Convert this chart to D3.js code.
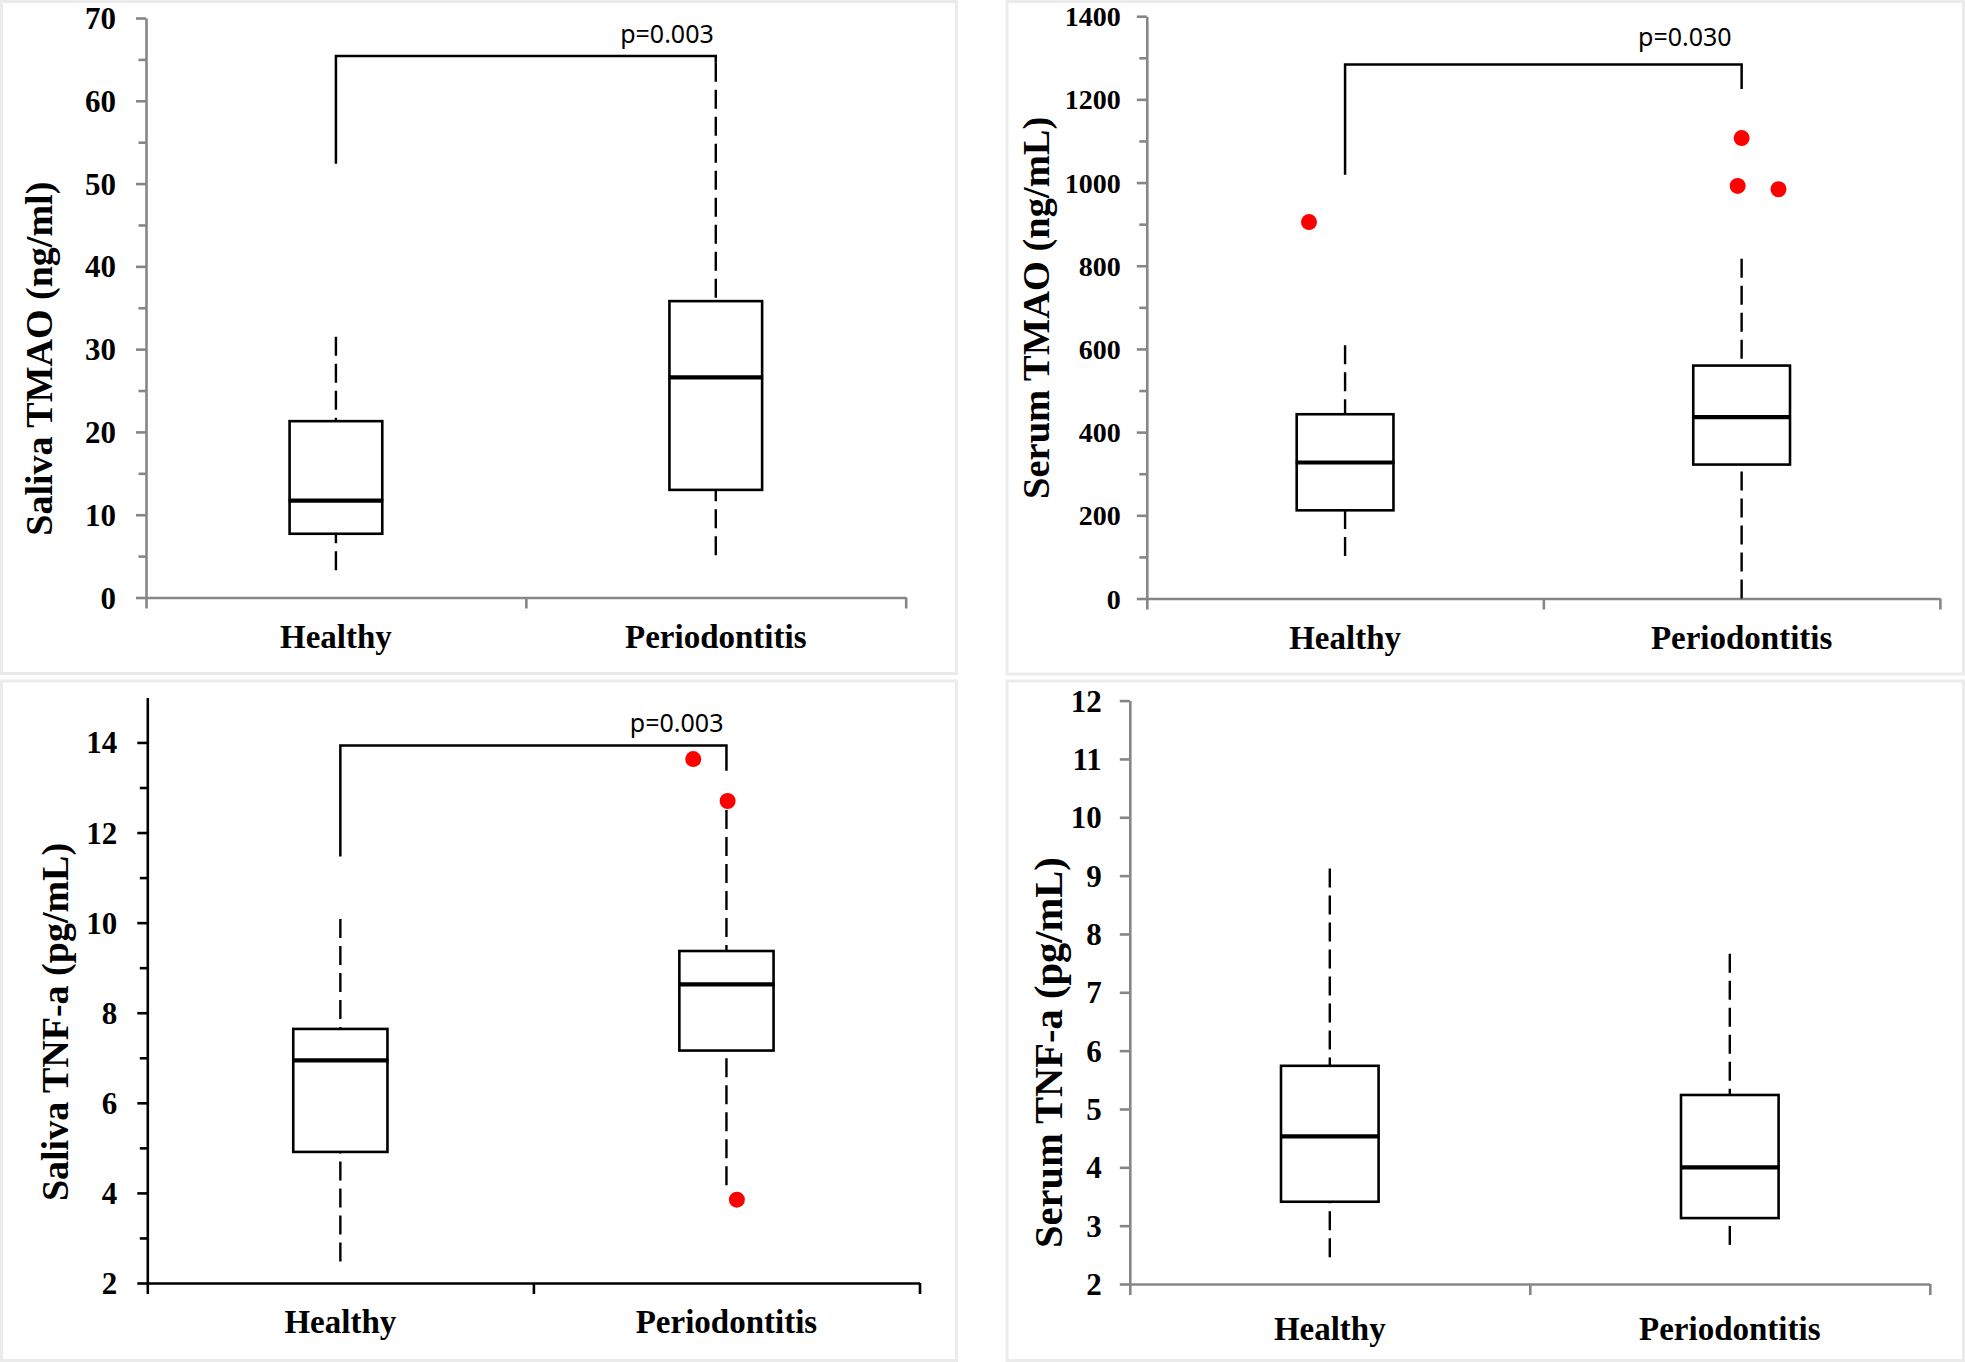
<!DOCTYPE html>
<html>
<head>
<meta charset="utf-8">
<script src="https://cdn.jsdelivr.net/npm/d3@7"></script>
<style>
  html, body { margin: 0; padding: 0; background: #fff; }
  svg { display: block; }
</style>
</head>
<body>
<svg id="chart" width="1965" height="1362"></svg>
<script>
// groups on the x axis
const groups = ['Healthy', 'Periodontitis'];

// five-number summaries per group: [min, q1, median, q3, max]
const salivaTmao = [[3.3, 7.7, 11.7, 21.3, 31.5], [5.1, 13.0, 26.6, 35.8, 64.6]];
const serumTmao = [[102, 212, 327, 443, 609], [0, 322, 436, 560, 817]];
const salivaTnf = [[2.48, 4.91, 6.94, 7.64, 10.08], [4.17, 7.16, 8.63, 9.37, 12.5]];
const serumTnf = [[2.46, 3.41, 4.53, 5.74, 9.12], [2.67, 3.13, 4.0, 5.24, 7.66]];

// outliers per group, and their sideways jitter (fraction of a band)
const serumTmaoOutliers = [[905], [1107, 992, 984]];
const serumTmaoJitter = [[-0.091], [0, -0.01, 0.093]];
const salivaTnfOutliers = [[], [13.63, 12.7, 3.85]];
const salivaTnfJitter = [[], [-0.086, 0.003, 0.027]];

// y tick labels
const salivaTmaoTicks = [0, 10, 20, 30, 40, 50, 60, 70];
const serumTmaoTicks = [0, 200, 400, 600, 800, 1000, 1200, 1400];
const salivaTnfTicks = [2, 4, 6, 8, 10, 12, 14];
const serumTnfTicks = [2, 3, 4, 5, 6, 7, 8, 9, 10, 11, 12];

// significance brackets: [left leg bottom, top, right leg bottom]
const salivaTmaoSig = [52.4, 65.4, 64.6];
const serumTmaoSig = [1019, 1284, 1225];
const salivaTnfSig = [11.47, 13.93, 13.37];
const pLabels = ['p=0.003', 'p=0.030', 'p=0.003'];

const svg = d3.select('#chart');
const serif = '"Liberation Serif", "Times New Roman", serif';

// light panel frames
const frames = [[1.5, 1.5, 955, 672], [1007, 1.5, 956.5, 672.5], [1.5, 681, 955, 679.5], [1007, 681, 956.5, 679.5]];
svg.selectAll('rect.frame')
    .data(frames)
    .enter().append('rect')
    .attr('class', 'frame')
    .attr('x', d => d[0]).attr('y', d => d[1])
    .attr('width', d => d[2]).attr('height', d => d[3])
    .attr('fill', 'none')
    .attr('stroke', '#ebebeb')
    .attr('stroke-width', 3);

function drawPanel(p) {
    const g = svg.append('g');
    const y = d3.scaleLinear().domain(p.domain).range([p.yBot, p.yTop]);
    const band = d3.scaleBand().domain(groups).range([p.x0, p.x1]);
    const bw = band.bandwidth();
    const cx = name => band(name) + bw / 2;
    const boxW = bw * 0.244;

    // y axis, major and minor ticks
    const yAxis = g.append('g')
        .attr('transform', `translate(${p.x0},0)`)
        .call(d3.axisLeft(y).tickValues(p.ticks).tickSize(10).tickSizeOuter(0)
            .tickPadding(p.tickPad).tickFormat(d3.format('d')));
    yAxis.attr('color', p.axisColor).attr('font-family', serif).attr('font-size', p.tickFont)
        .attr('font-weight', 'bold');
    yAxis.selectAll('path, line').attr('stroke-width', 2.6);
    yAxis.selectAll('text').attr('fill', '#000').attr('dy', '0.34em');

    if (p.minor) {
        const minorTicks = d3.pairs(p.ticks, (a, b) => (a + b) / 2);
        const m = g.append('g')
            .attr('transform', `translate(${p.x0},0)`)
            .call(d3.axisLeft(y).tickValues(minorTicks).tickSize(7.5).tickFormat(''));
        m.attr('color', p.axisColor);
        m.select('.domain').remove();
        m.selectAll('line').attr('stroke-width', 2.6);
    }

    // x axis with ticks at band edges
    const xEdge = d3.scaleLinear().domain([0, groups.length]).range([p.x0, p.x1]);
    const xAxis = g.append('g')
        .attr('transform', `translate(0,${p.yBot})`)
        .call(d3.axisBottom(xEdge).tickValues(d3.range(groups.length + 1)).tickSize(11)
            .tickSizeOuter(0).tickFormat(''));
    xAxis.attr('color', p.axisColor);
    xAxis.selectAll('path, line').attr('stroke-width', 2.6);

    g.selectAll('text.group')
        .data(groups)
        .enter().append('text')
        .attr('class', 'group')
        .attr('x', d => cx(d))
        .attr('y', p.yBot + p.labelDy)
        .attr('text-anchor', 'middle')
        .attr('font-family', serif)
        .attr('font-weight', 'bold')
        .attr('font-size', 33)
        .text(d => d);

    // y axis title
    g.append('text')
        .attr('transform', `translate(${p.titleX},${p.titleY}) rotate(-90)`)
        .attr('text-anchor', 'middle')
        .attr('font-family', serif)
        .attr('font-weight', 'bold')
        .attr('font-size', p.titleSize)
        .text(p.title);

    // boxes
    const boxes = g.selectAll('g.box')
        .data(p.stats.map((s, i) => ({ name: groups[i], s: s })))
        .enter().append('g')
        .attr('class', 'box');

    boxes.append('line')
        .attr('x1', d => cx(d.name)).attr('x2', d => cx(d.name))
        .attr('y1', d => y(d.s[4])).attr('y2', d => y(d.s[3]))
        .attr('stroke', '#000').attr('stroke-width', 2.4).attr('stroke-dasharray', '19,8');
    boxes.append('line')
        .attr('x1', d => cx(d.name)).attr('x2', d => cx(d.name))
        .attr('y1', d => y(d.s[0])).attr('y2', d => y(d.s[1]))
        .attr('stroke', '#000').attr('stroke-width', 2.4).attr('stroke-dasharray', '19,8');
    boxes.append('rect')
        .attr('x', d => cx(d.name) - boxW / 2)
        .attr('y', d => y(d.s[3]))
        .attr('width', boxW)
        .attr('height', d => y(d.s[1]) - y(d.s[3]))
        .attr('fill', '#fff')
        .attr('stroke', '#000')
        .attr('stroke-width', 2.6);
    boxes.append('line')
        .attr('x1', d => cx(d.name) - boxW / 2 - 1).attr('x2', d => cx(d.name) + boxW / 2 + 1)
        .attr('y1', d => y(d.s[2])).attr('y2', d => y(d.s[2]))
        .attr('stroke', '#000').attr('stroke-width', 4.2);

    // outliers
    if (p.outliers) {
        const pts = [];
        p.outliers.forEach((vals, i) => vals.forEach((v, j) => pts.push({ name: groups[i], v: v, j: p.jitter[i][j] })));
        g.selectAll('circle.out')
            .data(pts)
            .enter().append('circle')
            .attr('class', 'out')
            .attr('cx', d => cx(d.name) + d.j * bw)
            .attr('cy', d => y(d.v))
            .attr('r', 8)
            .attr('fill', '#ff0000');
    }

    // significance bracket
    if (p.sig) {
        const xl = cx(groups[0]), xr = cx(groups[1]);
        g.append('path')
            .attr('d', d3.line()([[xl, y(p.sig[0])], [xl, y(p.sig[1])], [xr, y(p.sig[1])], [xr, y(p.sig[2])]]))
            .attr('fill', 'none')
            .attr('stroke', '#000')
            .attr('stroke-width', 2.5);
        g.append('text')
            .attr('x', xr + p.pDx)
            .attr('y', y(p.sig[1]) + p.pDy)
            .attr('text-anchor', 'end')
            .attr('font-family', '"Noto Sans", "Open Sans", sans-serif')
            .attr('font-size', 25)
            .text(p.pLabel);
    }
}

drawPanel({
    x0: 146, x1: 905.7, yTop: 18, yBot: 597.5, domain: [0, 70],
    ticks: salivaTmaoTicks, minor: true, tickFont: 31, tickPad: 20, axisColor: '#868686',
    title: 'Saliva TMAO (ng/ml)', titleX: 52, titleY: 358.7, titleSize: 38, labelDy: 50,
    stats: salivaTmao, sig: salivaTmaoSig, pLabel: pLabels[0], pDx: -2, pDy: -13
});

drawPanel({
    x0: 1146.8, x1: 1939.9, yTop: 16.2, yBot: 598.5, domain: [0, 1400],
    ticks: serumTmaoTicks, minor: true, tickFont: 28, tickPad: 16, axisColor: '#868686',
    title: 'Serum TMAO (ng/mL)', titleX: 1049, titleY: 307.8, titleSize: 38.5, labelDy: 50,
    stats: serumTmao, outliers: serumTmaoOutliers, jitter: serumTmaoJitter,
    sig: serumTmaoSig, pLabel: pLabels[1], pDx: -10, pDy: -18.5
});

drawPanel({
    x0: 147.3, x1: 919.5, yTop: 697.4, yBot: 1283, domain: [2, 15],
    ticks: salivaTnfTicks, minor: true, tickFont: 31, tickPad: 20, axisColor: '#000',
    title: 'Saliva TNF-a (pg/mL)', titleX: 68, titleY: 1022, titleSize: 38, labelDy: 50,
    stats: salivaTnf, outliers: salivaTnfOutliers, jitter: salivaTnfJitter,
    sig: salivaTnfSig, pLabel: pLabels[2], pDx: -3, pDy: -14
});

drawPanel({
    x0: 1129.8, x1: 1929.8, yTop: 700.6, yBot: 1284, domain: [2, 12],
    ticks: serumTnfTicks, minor: false, tickFont: 31, tickPad: 18, axisColor: '#868686',
    title: 'Serum TNF-a (pg/mL)', titleX: 1062, titleY: 1052.7, titleSize: 40.5, labelDy: 56,
    stats: serumTnf
});
</script>
</body>
</html>
